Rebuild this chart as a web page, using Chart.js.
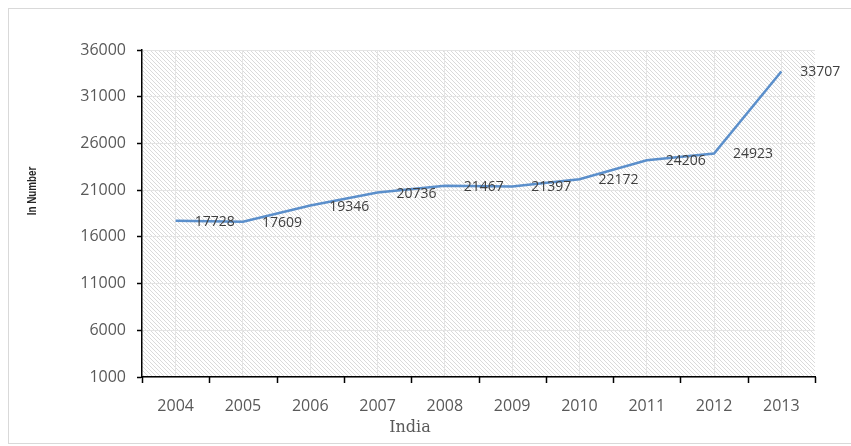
<!DOCTYPE html>
<html>
<head>
<meta charset="utf-8">
<script src="https://cdn.jsdelivr.net/npm/chart.js@4.4.1/dist/chart.umd.min.js"></script>
<style>
  html, body { margin: 0; padding: 0; background: #fff; }
  #wrap { width: 851px; height: 446px; position: relative; }
</style>
</head>
<body>
<div id="wrap"><canvas id="graficoIndia"></canvas></div>
<script>
// yearly counts for India
const years = ['2004', '2005', '2006', '2007', '2008', '2009', '2010', '2011', '2012', '2013'];
const counts = [17728, 17609, 19346, 20736, 21467, 21397, 22172, 24206, 24923, 33707];
const yMin = 1000;
const yMax = 36000;
const yStep = 5000;
const xTitle = 'India';
const yTitle = 'In Number';

// diagonal hatch used behind the plot
const hatchTile = document.createElement('canvas');
hatchTile.width = 4;
hatchTile.height = 4;
(() => {
  const g = hatchTile.getContext('2d');
  g.fillStyle = '#ffffff';
  g.fillRect(0, 0, 4, 4);
  g.strokeStyle = '#dadada';
  g.lineWidth = 1;
  [[-1, -1, 5, 5], [-1, 3, 1, 5], [3, -1, 5, 1]].forEach(([a, b, c, d]) => {
    g.beginPath(); g.moveTo(a, b); g.lineTo(c, d); g.stroke();
  });
})();

const fondo = {
  id: 'fondo',
  beforeDraw(chart) {
    const {ctx, chartArea: a} = chart;
    ctx.save();
    ctx.strokeStyle = '#d9d9d9';
    ctx.lineWidth = 1;
    ctx.strokeRect(8.5, 8.5, 870, 435);
    ctx.fillStyle = ctx.createPattern(hatchTile, 'repeat');
    ctx.fillRect(a.left, a.top, a.right - a.left, a.bottom - a.top);
    ctx.restore();
  }
};

// tick marks between the year categories
const marcasX = {
  id: 'marcasX',
  afterDraw(chart) {
    const {ctx, scales: {x}} = chart;
    const step = (x.right - x.left) / years.length;
    ctx.save();
    ctx.strokeStyle = '#000';
    ctx.lineWidth = 1.5;
    for (let i = 0; i <= years.length; i++) {
      const px = Math.round(x.left + i * step) + 0.5;
      ctx.beginPath();
      ctx.moveTo(px, x.top);
      ctx.lineTo(px, x.top + 6);
      ctx.stroke();
    }
    ctx.restore();
  }
};

// value labels to the right of each point
const etiquetas = {
  id: 'etiquetas',
  afterDatasetsDraw(chart) {
    const {ctx} = chart;
    const meta = chart.getDatasetMeta(0);
    ctx.save();
    ctx.font = '14px "Open Sans"';
    ctx.fillStyle = '#404040';
    ctx.textAlign = 'left';
    ctx.textBaseline = 'middle';
    meta.data.forEach((pt, i) => {
      ctx.fillText(String(counts[i]), pt.x + 19, pt.y + 1);
    });
    ctx.restore();
  }
};

const titulos = {
  id: 'titulos',
  afterDraw(chart) {
    const {ctx} = chart;
    ctx.save();
    ctx.textAlign = 'center';
    ctx.textBaseline = 'middle';
    ctx.fillStyle = '#595959';
    ctx.font = '16px "DejaVu Serif"';
    ctx.fillText(xTitle, 410, 428);
    // narrow bold title along the y axis
    ctx.translate(33, 191);
    ctx.rotate(-Math.PI / 2);
    ctx.scale(0.82, 1);
    ctx.fillStyle = '#262626';
    ctx.font = 'bold 12px "Liberation Sans"';
    ctx.fillText(yTitle, 0, 0);
    ctx.restore();
  }
};

const ctxIndia = document.getElementById('graficoIndia').getContext('2d');
const configuracion = {
  type: 'line',
  data: {
    labels: years,
    datasets: [{
      label: xTitle,
      data: counts,
      borderColor: '#5b8fcb',
      borderWidth: 2.5,
      pointRadius: 0,
      tension: 0,
      fill: false
    }]
  },
  options: {
    responsive: true,
    maintainAspectRatio: false,
    animation: false,
    layout: { padding: { left: 0, top: 50, right: 36, bottom: 0 } },
    scales: {
      x: {
        offset: true,
        grid: { offset: false, color: '#e4e4e4', lineWidth: 1, drawTicks: false },
        border: { color: '#000', width: 1.5 },
        ticks: { color: '#595959', font: { family: 'Open Sans', size: 16 }, padding: 20, maxRotation: 0 },
        afterFit(scale) { scale.height = 69; }
      },
      y: {
        min: yMin,
        max: yMax,
        grid: { color: '#e4e4e4', lineWidth: 1, tickColor: '#000', tickLength: 5, tickWidth: 1.5 },
        border: { color: '#000', width: 1.5 },
        ticks: {
          stepSize: yStep,
          color: '#595959',
          font: { family: 'Open Sans', size: 16 },
          padding: 11,
          callback: (v) => String(v)
        },
        afterFit(scale) { scale.width = 142; }
      }
    },
    plugins: {
      legend: { display: false },
      tooltip: { enabled: false }
    }
  },
  plugins: [fondo, marcasX, etiquetas, titulos]
};
const graficoIndia = new Chart(ctxIndia, configuracion);
</script>
</body>
</html>
